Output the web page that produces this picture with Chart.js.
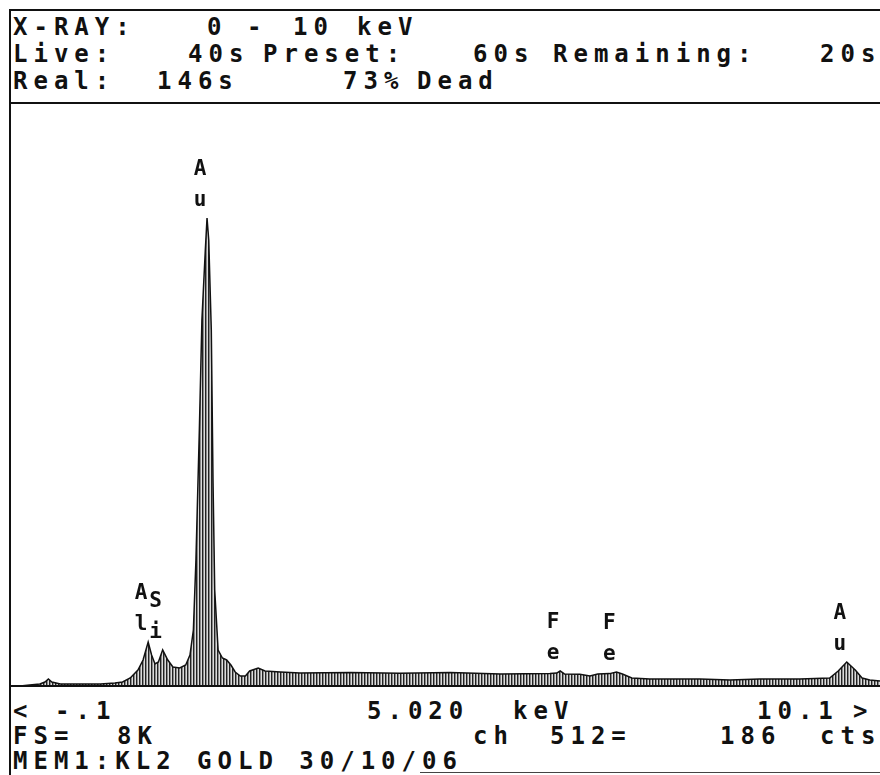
<!DOCTYPE html>
<html>
<head>
<meta charset="utf-8">
<script src="https://cdn.jsdelivr.net/npm/chart.js@4"></script>
<style>
    html, body { margin: 0; padding: 0; background: #fff; }
    #screen { position: relative; width: 880px; height: 775px; overflow: hidden; background: #fff; }
    .t {
        position: absolute;
        font-family: "DejaVu Sans Mono", monospace;
        font-weight: bold;
        font-size: 24px;
        line-height: 24px;
        letter-spacing: 6px;
        color: #111;
        white-space: pre;
    }
    .rule { position: absolute; background: #111; }
    #plot { position: absolute; left: 10px; top: 103px; width: 870px; height: 583px; }
</style>
</head>
<body>
<div id="screen">
    <div class="rule" style="left:10px;top:9px;width:870px;height:2px"></div>
    <div class="rule" style="left:9px;top:9px;width:2px;height:766px"></div>
    <div class="rule" style="left:10px;top:102px;width:870px;height:2px"></div>
    <div class="rule" style="left:420px;top:772px;width:460px;height:1px;background:#444"></div>

    <div class="t" style="left:13px;top:15px">X-RAY:</div>
    <div class="t" style="left:207px;top:15px">0</div>
    <div class="t" style="left:247px;top:15px">-</div>
    <div class="t" style="left:293px;top:15px">10</div>
    <div class="t" style="left:357px;top:15px">keV</div>

    <div class="t" style="left:13px;top:42px">Live:</div>
    <div class="t" style="left:188px;top:42px">40s</div>
    <div class="t" style="left:263px;top:42px">Preset:</div>
    <div class="t" style="left:473px;top:42px">60s</div>
    <div class="t" style="left:553px;top:42px">Remaining:</div>
    <div class="t" style="left:820px;top:42px">20s</div>

    <div class="t" style="left:13px;top:69px">Real:</div>
    <div class="t" style="left:157px;top:69px">146s</div>
    <div class="t" style="left:343px;top:69px">73%</div>
    <div class="t" style="left:417px;top:69px">Dead</div>

    <div id="plot"><canvas id="spectrum"></canvas></div>
    <div class="rule" style="left:10px;top:685px;width:870px;height:2px"></div>

    <div class="t" style="left:13px;top:699px">&lt;</div>
    <div class="t" style="left:55px;top:699px">-.1</div>
    <div class="t" style="left:367px;top:699px">5.020</div>
    <div class="t" style="left:513px;top:699px">keV</div>
    <div class="t" style="left:757px;top:699px">10.1</div>
    <div class="t" style="left:853px;top:699px">&gt;</div>

    <div class="t" style="left:13px;top:724px">FS=</div>
    <div class="t" style="left:117px;top:724px">8K</div>
    <div class="t" style="left:473px;top:724px">ch</div>
    <div class="t" style="left:550px;top:724px">512=</div>
    <div class="t" style="left:720px;top:724px">186</div>
    <div class="t" style="left:820px;top:724px">cts</div>

    <div class="t" style="left:13px;top:749px">MEM1:KL2 GOLD 30/10/06</div>
</div>

<script>
// spectrum: energy (keV) and counts
const energy = [
    -0.10, 0.02, 0.13, 0.25, 0.31, 0.35, 0.39, 0.49, 0.72, 0.96,
    1.13, 1.22, 1.31, 1.40, 1.46, 1.52, 1.56, 1.60, 1.64, 1.69,
    1.75, 1.81, 1.89, 1.96, 2.01, 2.05, 2.08, 2.12, 2.15, 2.19,
    2.21, 2.23, 2.26, 2.28, 2.30, 2.34, 2.39, 2.44, 2.49, 2.54,
    2.60, 2.66, 2.71, 2.81, 2.89, 3.07, 3.30, 3.89, 4.47, 5.06,
    5.65, 6.23, 6.31, 6.35, 6.40, 6.58, 6.70, 6.79, 6.93, 7.01,
    7.08, 7.19, 7.40, 7.99, 8.34, 8.69, 9.16, 9.51, 9.61, 9.71,
    9.81, 9.89, 9.98, 10.10
];
const counts = [
    0, 0, 14, 27, 55, 96, 55, 27, 27, 27,
    41, 55, 110, 220, 357, 604, 425, 302, 330, 494,
    357, 261, 247, 288, 425, 768, 1729, 3512, 5022, 5982,
    6421, 6119, 4884, 2826, 1317, 494, 384, 357, 288, 192,
    137, 137, 206, 247, 206, 192, 178, 185, 175, 186,
    165, 170, 178, 206, 165, 160, 137, 165, 170, 192,
    165, 110, 96, 96, 82, 96, 96, 110, 206, 330,
    220, 110, 82, 69
];

// element markers
const peakLabels = ['Au', 'Al', 'Si', 'Fe', 'Fe', 'Au'];
const peakEnergy = [2.21, 1.52, 1.69, 6.35, 7.01, 9.71];

const fullScale = 8000;
const xMin = -0.1, xMax = 10.1;

const makeHatch = () => {
    const c = document.createElement('canvas');
    c.width = 3; c.height = 1;
    const g = c.getContext('2d');
    g.fillStyle = '#222'; g.fillRect(0, 0, 1, 1);
    g.fillStyle = '#8a8a8a'; g.fillRect(1, 0, 1, 1);
    g.fillStyle = '#dcdcdc'; g.fillRect(2, 0, 1, 1);
    return g.createPattern(c, 'repeat');
};

const peakMarkers = {
    id: 'peakMarkers',
    afterDatasetsDraw(chart) {
        const { ctx, scales: { x, y } } = chart;
        ctx.save();
        ctx.fillStyle = '#111';
        ctx.font = 'bold 21px "DejaVu Sans Mono", monospace';
        ctx.textAlign = 'center';
        ctx.textBaseline = 'bottom';
        peakLabels.forEach((lab, i) => {
            const e = peakEnergy[i];
            let top = 0;
            energy.forEach((v, j) => {
                if (Math.abs(v - e) <= 0.06) top = Math.max(top, counts[j]);
            });
            const px = x.getPixelForValue(e) - 7;
            const py = y.getPixelForValue(top) - 7;
            ctx.fillText(lab[1], px, py);
            ctx.fillText(lab[0], px, py - 31);
        });
        ctx.restore();
    }
};

new Chart(document.getElementById('spectrum').getContext('2d'), {
    type: 'line',
    data: {
        datasets: [{
            data: energy.map((e, i) => ({ x: e, y: counts[i] })),
            borderColor: '#111',
            borderWidth: 1.5,
            backgroundColor: makeHatch(),
            fill: 'origin',
            pointRadius: 0,
            tension: 0
        }]
    },
    options: {
        responsive: true,
        maintainAspectRatio: false,
        animation: false,
        layout: { padding: 0 },
        plugins: { legend: { display: false }, tooltip: { enabled: false } },
        scales: {
            x: { type: 'linear', min: xMin, max: xMax, display: false },
            y: { min: 0, max: fullScale, display: false }
        }
    },
    plugins: [peakMarkers]
});
</script>
</body>
</html>
